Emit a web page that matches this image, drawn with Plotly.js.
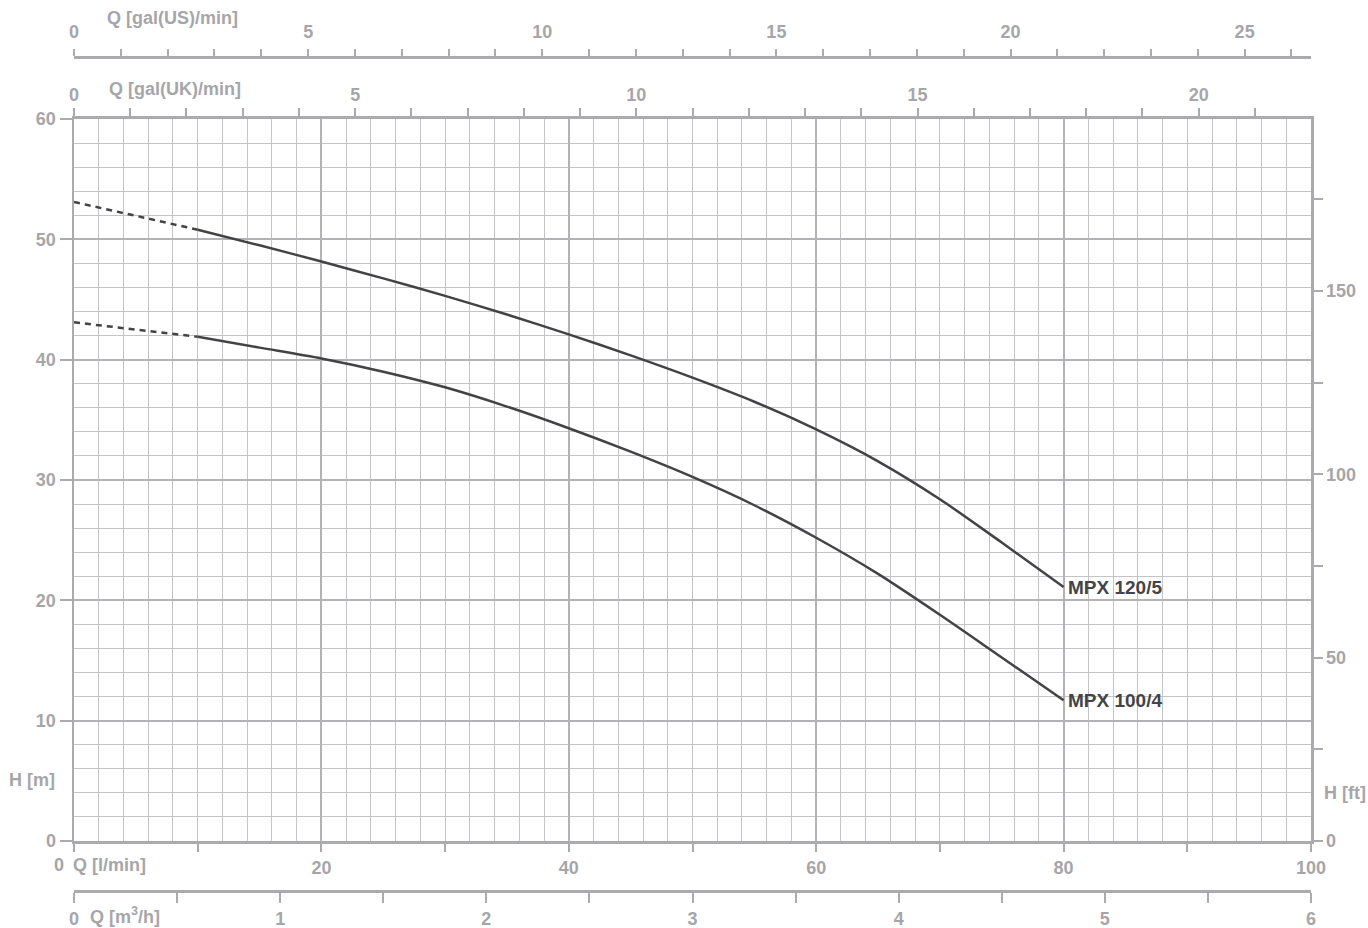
<!DOCTYPE html>
<html>
<head>
<meta charset="utf-8">
<script src="https://cdn.plot.ly/plotly-3.0.1.min.js"></script>
<style>html,body{margin:0;padding:0;background:#fff;}#chart{width:1368px;height:928px;}</style>
</head>
<body>
<div id="chart"></div>
<script>
// ---- data ----
const flowExt = [0, 10];                 // l/min, dashed extrapolation
const headExtMPX120 = [53.1, 50.8];
const headExtMPX100 = [43.1, 41.9];

const flowLpm = [10, 15, 20, 25, 30, 35, 40, 45, 50, 55, 60, 65, 70, 75, 80];
const headMPX120 = [50.8, 49.5, 48.15, 46.75, 45.3, 43.75, 42.1, 40.35, 38.5, 36.5, 34.2, 31.55, 28.4, 24.8, 21.1];
const headMPX100 = [41.9, 41.0, 40.1, 39.0, 37.7, 36.1, 34.3, 32.35, 30.25, 27.9, 25.2, 22.2, 18.8, 15.25, 11.7];

const seriesNames = ["MPX 120/5", "MPX 100/4"];
const lpmLabelVals = [20, 40, 60, 80, 100];
const lpmMinorVals = [0, 10, 30, 50, 70, 90];

// unit conversions
const L_PER_USGAL = 3.785411784;
const L_PER_UKGAL = 4.54609;
const M_PER_FT = 0.3048;
const Q_MAX = 100, H_MAX = 60;

const axisCol = "#ababaf";
const majorGrid = "#b3b3b7";
const minorGrid = "#c4c4c8";
const textCol = "#a6a6aa";
const curveCol = "#434345";
const tickFont = {family: "Liberation Sans, Arial, sans-serif", size: 18, color: textCol, weight: 700};

const traces = [
  {x: flowExt, y: headExtMPX120, mode: "lines", line: {color: curveCol, width: 2.5, dash: "6px,5px"}, hoverinfo: "skip", showlegend: false},
  {x: flowExt, y: headExtMPX100, mode: "lines", line: {color: curveCol, width: 2.5, dash: "6px,5px"}, hoverinfo: "skip", showlegend: false},
  {x: flowLpm, y: headMPX120, name: seriesNames[0], mode: "lines", line: {color: curveCol, width: 2.5, shape: "spline", smoothing: 0.8}, showlegend: false},
  {x: flowLpm, y: headMPX100, name: seriesNames[1], mode: "lines", line: {color: curveCol, width: 2.5, shape: "spline", smoothing: 0.8}, showlegend: false}
];
// empty helper traces so that the extra unit axes get drawn
[["x2", "y"], ["x3", "y"], ["x4", "y"], ["x5", "y"], ["x", "y2"]].forEach(function (p) {
  traces.push({x: [null], y: [null], xaxis: p[0], yaxis: p[1], mode: "lines", hoverinfo: "skip", showlegend: false});
});

const yDom = [0.0848, 0.8800];

const layout = {
  width: 1368, height: 928,
  margin: {l: 74, r: 57, t: 10, b: 10},
  paper_bgcolor: "#fff", plot_bgcolor: "#fff",
  showlegend: false,
  font: tickFont,
  xaxis: {
    range: [0, Q_MAX], domain: [0, 1], anchor: "y",
    showgrid: true, gridcolor: majorGrid, gridwidth: 2, tick0: 0, dtick: 20,
    minor: {dtick: 2, showgrid: true, gridcolor: minorGrid, gridwidth: 1},
    showticklabels: false, ticks: "", zeroline: false,
    showline: true, linecolor: axisCol, linewidth: 2.5
  },
  yaxis: {
    range: [0, H_MAX], domain: yDom, anchor: "x",
    showgrid: true, gridcolor: majorGrid, gridwidth: 2, tick0: 0, dtick: 10,
    minor: {dtick: 2, showgrid: true, gridcolor: minorGrid, gridwidth: 1},
    ticks: "outside", ticklen: 12, tickwidth: 2, tickcolor: axisCol,
    tickfont: tickFont, zeroline: false,
    showline: true, linecolor: axisCol, linewidth: 2.5
  },
  // l/min ticks (bottom)
  xaxis2: {
    overlaying: "x", anchor: "y", side: "bottom", range: [0, Q_MAX],
    tickmode: "array", tickvals: lpmLabelVals,
    ticks: "outside", ticklen: 10, tickwidth: 2, tickcolor: axisCol,
    minor: {tickmode: "array", tickvals: lpmMinorVals, ticks: "outside", ticklen: 10, tickwidth: 2, tickcolor: axisCol, showgrid: false},
    tickfont: tickFont, showgrid: false, zeroline: false, showline: false
  },
  // gal(UK)/min (top of plot)
  xaxis3: {
    overlaying: "x", anchor: "y", side: "top", range: [0, Q_MAX / L_PER_UKGAL],
    tick0: 0, dtick: 5, ticks: "outside", ticklen: 8, tickwidth: 2, tickcolor: axisCol,
    minor: {dtick: 1, ticks: "outside", ticklen: 8, tickwidth: 2, tickcolor: axisCol},
    tickfont: tickFont, showgrid: false, zeroline: false,
    showline: true, linecolor: axisCol, linewidth: 2.5
  },
  // gal(US)/min (free, top)
  xaxis4: {
    overlaying: "x", anchor: "free", position: 0.9482, side: "top", range: [0, Q_MAX / L_PER_USGAL],
    tick0: 0, dtick: 5, ticks: "outside", ticklen: 7, tickwidth: 2, tickcolor: axisCol,
    minor: {dtick: 1, ticks: "outside", ticklen: 7, tickwidth: 2, tickcolor: axisCol},
    tickfont: tickFont, showgrid: false, zeroline: false, ticklabelstandoff: 4,
    showline: true, linecolor: axisCol, linewidth: 2.5
  },
  // m3/h (free, bottom)
  xaxis5: {
    overlaying: "x", anchor: "free", position: 0.0292, side: "bottom", range: [0, Q_MAX * 60 / 1000],
    tick0: 0, dtick: 1, ticks: "outside", ticklen: 10, tickwidth: 2, tickcolor: axisCol,
    minor: {dtick: 0.5, ticks: "outside", ticklen: 10, tickwidth: 2, tickcolor: axisCol},
    tickfont: tickFont, showgrid: false, zeroline: false,
    showline: true, linecolor: axisCol, linewidth: 2.5
  },
  // H [ft] (right)
  yaxis2: {
    overlaying: "y", anchor: "x", side: "right", range: [0, H_MAX / M_PER_FT],
    tick0: 0, dtick: 50, ticks: "outside", ticklen: 9, tickwidth: 2, tickcolor: axisCol,
    minor: {dtick: 25, ticks: "outside", ticklen: 9, tickwidth: 2, tickcolor: axisCol},
    tickfont: tickFont, showgrid: false, zeroline: false,
    showline: true, linecolor: axisCol, linewidth: 2.5
  },
  annotations: [
    {text: "Q [gal(US)/min]", xref: "paper", yref: "paper", x: 0.025, y: 0.991, xanchor: "left", yanchor: "middle", showarrow: false, font: tickFont},
    {text: "Q [gal(UK)/min]", xref: "paper", yref: "paper", x: 0.027, y: 0.913, xanchor: "left", yanchor: "middle", showarrow: false, font: tickFont},
    {text: "0", xref: "paper", yref: "paper", x: -0.0125, y: 0.0584, xanchor: "center", yanchor: "middle", showarrow: false, font: tickFont},
    {text: "Q [l/min]", xref: "paper", yref: "paper", x: -0.0024, y: 0.0584, xanchor: "left", yanchor: "middle", showarrow: false, font: tickFont},
    {text: "Q [m<sup>3</sup>/h]", xref: "paper", yref: "paper", x: 0.0115, y: 0.0033, xanchor: "left", yanchor: "middle", showarrow: false, font: tickFont},
    {text: "H [m]", xref: "paper", yref: "paper", x: -0.0135, y: 0.152, xanchor: "right", yanchor: "middle", showarrow: false, font: tickFont},
    {text: "H [ft]", xref: "paper", yref: "paper", x: 1.0085, y: 0.1377, xanchor: "left", yanchor: "middle", showarrow: false, font: tickFont},
    {text: seriesNames[0], xref: "x", yref: "y", x: flowLpm[flowLpm.length - 1], y: headMPX120[headMPX120.length - 1], xanchor: "left", yanchor: "middle", xshift: 2, showarrow: false,
     font: {family: "Liberation Sans, Arial, sans-serif", size: 19, color: "#444446", weight: 700}},
    {text: seriesNames[1], xref: "x", yref: "y", x: flowLpm[flowLpm.length - 1], y: headMPX100[headMPX100.length - 1], xanchor: "left", yanchor: "middle", xshift: 2, showarrow: false,
     font: {family: "Liberation Sans, Arial, sans-serif", size: 19, color: "#444446", weight: 700}}
  ]
};

Plotly.newPlot("chart", traces, layout, {staticPlot: true, displayModeBar: false});
</script>
</body>
</html>
